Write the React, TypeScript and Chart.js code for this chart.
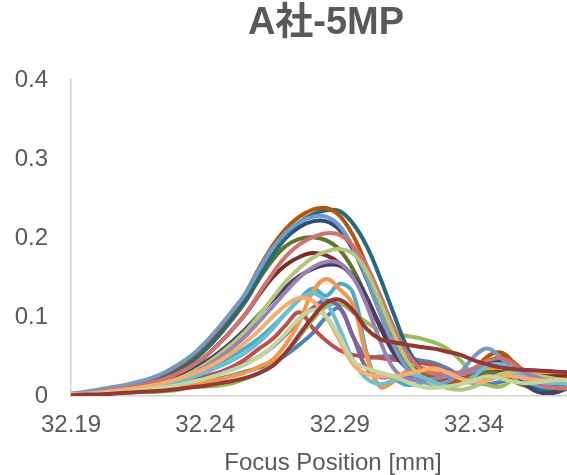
import React, { useEffect, useRef } from 'react';
import { Chart, registerables } from 'chart.js';

Chart.register(...registerables);

const TITLE = 'A社-5MP';
const X_TITLE = 'Focus Position [mm]';
const X_MIN = 32.19;
const X_MAX = 32.385;
const X_TICKS = [32.19, 32.24, 32.29, 32.34];
const Y_MIN = 0;
const Y_MAX = 0.4;
const Y_STEP = 0.1;

const focusPositions = [
  32.19, 32.195, 32.2, 32.205, 32.21, 32.215, 32.22, 32.225, 32.23, 32.235,
  32.24, 32.245, 32.25, 32.255, 32.26, 32.265, 32.27, 32.275, 32.28, 32.285,
  32.29, 32.295, 32.3, 32.305, 32.31, 32.315, 32.32, 32.325, 32.33, 32.335,
  32.34, 32.345, 32.35, 32.355, 32.36, 32.365, 32.37, 32.375, 32.38, 32.385,
];

const s01 = [0.002,0.003,0.004,0.005,0.006,0.007,0.009,0.011,0.013,0.016,0.019,0.022,0.026,0.031,0.036,0.042,0.052,0.065,0.080,0.100,0.111,0.075,0.050,0.050,0.050,0.048,0.045,0.042,0.035,0.025,0.018,0.015,0.018,0.022,0.020,0.015,0.012,0.012,0.014,0.015];
const s02 = [0.002,0.003,0.004,0.005,0.006,0.008,0.010,0.012,0.015,0.019,0.025,0.030,0.037,0.047,0.060,0.072,0.090,0.106,0.086,0.070,0.058,0.052,0.050,0.048,0.046,0.045,0.042,0.038,0.030,0.025,0.022,0.025,0.030,0.035,0.032,0.028,0.025,0.022,0.020,0.020];
const s03 = [0.001,0.002,0.003,0.004,0.004,0.005,0.005,0.006,0.008,0.011,0.012,0.013,0.016,0.022,0.029,0.040,0.055,0.075,0.097,0.113,0.117,0.106,0.093,0.083,0.078,0.076,0.073,0.068,0.060,0.045,0.025,0.014,0.012,0.022,0.030,0.030,0.027,0.024,0.020,0.018];
const s04 = [0.001,0.002,0.003,0.004,0.005,0.007,0.009,0.011,0.014,0.018,0.023,0.028,0.034,0.041,0.050,0.062,0.078,0.096,0.112,0.121,0.112,0.075,0.035,0.024,0.025,0.025,0.024,0.024,0.025,0.028,0.035,0.045,0.042,0.032,0.025,0.020,0.016,0.015,0.015,0.015];
const s05 = [0.001,0.002,0.003,0.005,0.007,0.009,0.012,0.016,0.021,0.027,0.034,0.042,0.051,0.061,0.073,0.088,0.105,0.122,0.136,0.127,0.142,0.130,0.055,0.012,0.020,0.014,0.016,0.025,0.028,0.022,0.016,0.020,0.030,0.035,0.030,0.022,0.018,0.018,0.020,0.020];
const s06 = [0.001,0.002,0.003,0.004,0.005,0.006,0.008,0.010,0.012,0.015,0.018,0.021,0.025,0.030,0.037,0.046,0.066,0.094,0.132,0.148,0.135,0.115,0.050,0.012,0.018,0.032,0.036,0.030,0.025,0.025,0.030,0.035,0.030,0.025,0.025,0.030,0.030,0.027,0.025,0.022];
const s07 = [0.002,0.004,0.007,0.010,0.013,0.016,0.021,0.027,0.035,0.046,0.060,0.078,0.098,0.120,0.150,0.178,0.200,0.214,0.221,0.221,0.210,0.185,0.148,0.105,0.065,0.038,0.025,0.020,0.018,0.020,0.030,0.042,0.045,0.030,0.015,0.006,0.004,0.010,0.015,0.015];
const s08 = [0.002,0.003,0.005,0.007,0.009,0.012,0.016,0.021,0.028,0.037,0.050,0.066,0.084,0.104,0.128,0.150,0.166,0.176,0.181,0.178,0.168,0.150,0.122,0.090,0.060,0.040,0.030,0.025,0.022,0.022,0.025,0.030,0.030,0.028,0.025,0.025,0.025,0.025,0.024,0.024];
const s09 = [0.002,0.003,0.005,0.008,0.011,0.014,0.018,0.024,0.032,0.043,0.058,0.076,0.097,0.120,0.148,0.172,0.190,0.199,0.201,0.197,0.185,0.160,0.125,0.088,0.058,0.040,0.030,0.025,0.022,0.020,0.025,0.030,0.028,0.018,0.012,0.010,0.010,0.012,0.012,0.012];
const s10 = [0.001,0.002,0.004,0.006,0.008,0.011,0.014,0.019,0.025,0.033,0.043,0.055,0.069,0.085,0.103,0.121,0.138,0.152,0.161,0.166,0.165,0.152,0.125,0.088,0.055,0.035,0.025,0.018,0.016,0.020,0.030,0.042,0.045,0.030,0.012,0.004,0.006,0.012,0.016,0.016];
const s11 = [0.002,0.003,0.006,0.009,0.012,0.016,0.020,0.026,0.034,0.045,0.060,0.078,0.098,0.122,0.150,0.178,0.202,0.220,0.230,0.235,0.234,0.218,0.190,0.150,0.105,0.062,0.036,0.024,0.020,0.018,0.025,0.040,0.050,0.040,0.018,0.008,0.012,0.018,0.020,0.020];
const s12 = [0.002,0.004,0.007,0.010,0.013,0.017,0.022,0.029,0.038,0.050,0.066,0.085,0.106,0.130,0.162,0.190,0.212,0.227,0.236,0.238,0.228,0.203,0.165,0.120,0.078,0.045,0.028,0.022,0.018,0.020,0.032,0.050,0.055,0.042,0.028,0.022,0.020,0.022,0.020,0.018];
const s13 = [0.003,0.005,0.008,0.011,0.014,0.018,0.023,0.030,0.040,0.052,0.068,0.087,0.108,0.130,0.160,0.187,0.207,0.220,0.227,0.227,0.215,0.188,0.150,0.105,0.065,0.035,0.020,0.015,0.018,0.030,0.050,0.060,0.048,0.030,0.018,0.012,0.010,0.012,0.015,0.015];
const s14 = [0.002,0.003,0.005,0.008,0.010,0.013,0.017,0.022,0.029,0.038,0.050,0.066,0.084,0.104,0.130,0.155,0.177,0.192,0.201,0.206,0.204,0.190,0.165,0.128,0.088,0.055,0.035,0.028,0.030,0.030,0.035,0.045,0.048,0.040,0.025,0.015,0.010,0.010,0.012,0.015];
const s15 = [0.002,0.003,0.004,0.006,0.008,0.010,0.013,0.017,0.022,0.030,0.040,0.052,0.066,0.082,0.102,0.124,0.145,0.162,0.175,0.183,0.186,0.180,0.158,0.120,0.080,0.045,0.025,0.015,0.010,0.008,0.012,0.020,0.028,0.030,0.028,0.025,0.022,0.020,0.018,0.016];
const s16 = [0.001,0.002,0.003,0.005,0.007,0.009,0.012,0.016,0.021,0.028,0.037,0.048,0.061,0.076,0.094,0.113,0.132,0.150,0.163,0.170,0.168,0.150,0.115,0.070,0.035,0.022,0.020,0.022,0.025,0.028,0.032,0.038,0.040,0.035,0.028,0.022,0.018,0.018,0.018,0.018];
const s17 = [0.001,0.002,0.003,0.005,0.007,0.009,0.012,0.015,0.019,0.024,0.030,0.037,0.045,0.055,0.068,0.085,0.105,0.122,0.130,0.118,0.085,0.045,0.022,0.015,0.020,0.028,0.025,0.018,0.012,0.015,0.025,0.038,0.040,0.032,0.022,0.018,0.016,0.016,0.016,0.016];
const s18 = [0.002,0.003,0.004,0.006,0.008,0.010,0.013,0.017,0.022,0.028,0.035,0.044,0.055,0.068,0.083,0.100,0.115,0.124,0.120,0.100,0.070,0.040,0.028,0.025,0.025,0.028,0.032,0.035,0.030,0.022,0.018,0.020,0.025,0.025,0.022,0.020,0.020,0.020,0.020,0.020];
const s19 = [0.001,0.002,0.003,0.004,0.005,0.007,0.009,0.011,0.014,0.018,0.022,0.027,0.033,0.040,0.050,0.063,0.080,0.098,0.109,0.100,0.075,0.045,0.035,0.030,0.025,0.018,0.012,0.010,0.012,0.015,0.020,0.025,0.022,0.018,0.016,0.018,0.020,0.020,0.018,0.016];
const s20 = [0.001,0.002,0.002,0.003,0.004,0.005,0.006,0.007,0.009,0.011,0.013,0.016,0.019,0.023,0.029,0.038,0.055,0.078,0.100,0.118,0.122,0.108,0.085,0.072,0.068,0.065,0.062,0.060,0.056,0.052,0.045,0.040,0.036,0.034,0.033,0.032,0.031,0.030,0.030,0.030];

const seriesValues = [s01, s02, s03, s04, s05, s06, s07, s08, s09, s10, s11, s12, s13, s14, s15, s16, s17, s18, s19, s20];
const seriesColors = [
  '#4F81BD', '#C0504D', '#9BBB59', '#8064A2', '#4BACC6', '#F79646',
  '#2C4D75', '#772C2A', '#5F7530', '#4D3B62', '#276A7C', '#B65708',
  '#729ACA', '#CD7371', '#AFC97A', '#9983B5', '#6FBDD1', '#F9AB6B',
  '#C3D69B', '#953735',
];

const FONT = "'Liberation Sans', Arial, 'Noto Sans CJK JP', sans-serif";
const TEXT = '#595959';
const AXIS = '#d0d0d0';

export default function App() {
  const ref = useRef<HTMLCanvasElement | null>(null);

  useEffect(() => {
    document.body.style.margin = '0';
    const canvas = ref.current;
    if (!canvas) return;
    const datasets = seriesValues.map((vals, i) => ({
      label: 'S' + (i + 1),
      data: vals.map((v, k) => ({ x: focusPositions[k], y: v })),
      borderColor: seriesColors[i],
      backgroundColor: seriesColors[i],
      borderWidth: 4,
      pointRadius: 0,
      tension: 0.4,
      fill: false,
      order: seriesValues.length - i,
    }));
    const chart = new Chart(canvas, {
      type: 'line',
      data: { datasets },
      options: {
        animation: false,
        responsive: false,
        devicePixelRatio: 1,
        layout: { padding: 0 },
        plugins: {
          legend: { display: false },
          tooltip: { enabled: false },
          title: {
            display: true,
            text: TITLE,
            color: TEXT,
            font: { family: FONT, size: 38, weight: 'bold', lineHeight: 1.2 },
            padding: { top: 1, bottom: 33.4 },
          },
        },
        scales: {
          x: {
            type: 'linear',
            min: X_MIN,
            max: X_MAX,
            grid: { display: false },
            border: { display: true, color: AXIS, width: 1.5 },
            afterBuildTicks: (scale: any) => {
              scale.ticks = X_TICKS.map((v) => ({ value: v }));
            },
            afterFit: (scale: any) => {
              scale.height = 79;
            },
            ticks: {
              color: TEXT,
              font: { family: FONT, size: 24 },
              padding: 7,
              maxRotation: 0,
              autoSkip: false,
              callback: (v: any) => Number(v).toFixed(2),
            },
            title: {
              display: true,
              text: X_TITLE,
              color: TEXT,
              font: { family: FONT, size: 24, lineHeight: 1 },
              padding: 0,
            },
          },
          y: {
            type: 'linear',
            min: Y_MIN,
            max: Y_MAX,
            grid: { display: false },
            border: { display: true, color: AXIS, width: 1.5 },
            afterFit: (scale: any) => {
              scale.width = 71;
            },
            ticks: {
              stepSize: Y_STEP,
              color: TEXT,
              font: { family: FONT, size: 24 },
              padding: 15,
              callback: (v: any) => String(Math.round(Number(v) * 10) / 10),
            },
          },
          yRight: {
            type: 'linear',
            position: 'right',
            display: true,
            grid: { display: false },
            border: { display: false },
            ticks: { display: false },
            afterFit: (scale: any) => {
              scale.width = 57;
            },
          },
        },
      },
    });
    return () => chart.destroy();
  }, []);

  return (
    <div style={{ position: 'absolute', left: 0, top: 0, width: 567, height: 475, overflow: 'hidden', background: '#fff' }}>
      <canvas ref={ref} width={652} height={475} style={{ width: 652, height: 475, display: 'block' }} />
    </div>
  );
}
